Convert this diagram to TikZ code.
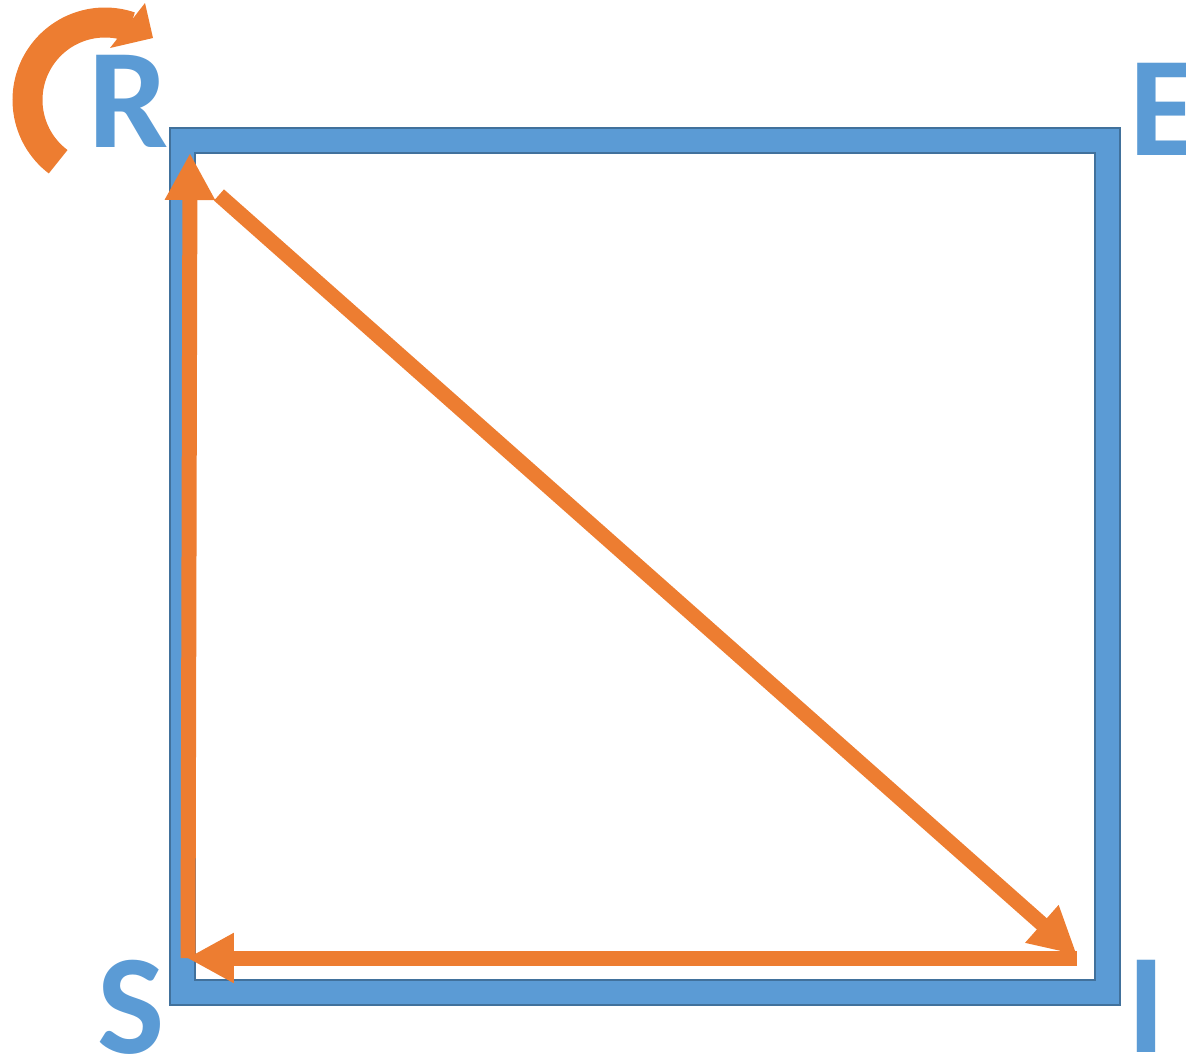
\documentclass[tikz,border=0pt]{standalone}
\usepackage{fontspec}
\setmainfont{Carlito}
\usetikzlibrary{arrows.meta}
\definecolor{sirblue}{HTML}{5B9BD5}
\definecolor{sirline}{HTML}{41719C}
\definecolor{sirorange}{HTML}{ED7D31}
\begin{document}
\begin{tikzpicture}[x=0.02cm, y=-0.02cm,
    state/.style={inner sep=0, text depth=0pt, text=sirblue, font=\bfseries\fontsize{81}{81}\selectfont},
    flow/.style={draw=sirorange, line width=0.3cm, -{Triangle[length=0.94cm, width=0.94cm]}},
    loop/.style={draw=sirorange, line width=0.6cm}
]
\useasboundingbox (0,0) rectangle (1186,1056);
% frame
\filldraw[fill=sirblue, draw=sirline, line width=0.6pt, even odd rule]
    (170,128) rectangle (1120,1005) (195,153) rectangle (1095,980);
% corner labels
\node[state, anchor=base] (R) at (129,147) {R};
\node[state, anchor=base west] (E) at (1129,155) {E};
\node[state, anchor=base] (S) at (131,1053) {S};
\node[state, anchor=base] (I) at (1146,1052) {I};
% arrow ends
\coordinate (s0) at (188,958);
\coordinate (r0) at (190,153);
\coordinate (r1) at (219,195);
\coordinate (i0) at (1077,955);
\coordinate (i1) at (1077,958);
\coordinate (s1) at (187,958);
\draw[flow] (s0) -- (r0);
\draw[flow] (r1) -- (i0);
\draw[flow] (i1) -- (s1);
% turn around R
\coordinate (rc) at (105,100);
\draw[loop] ([shift={(127.2:77.5)}]rc) arc[start angle=127.2, end angle=289, radius=77.5];
\fill[sirorange] (145,3) -- (153,38) -- (110,48) -- cycle;
\end{tikzpicture}
\end{document}
